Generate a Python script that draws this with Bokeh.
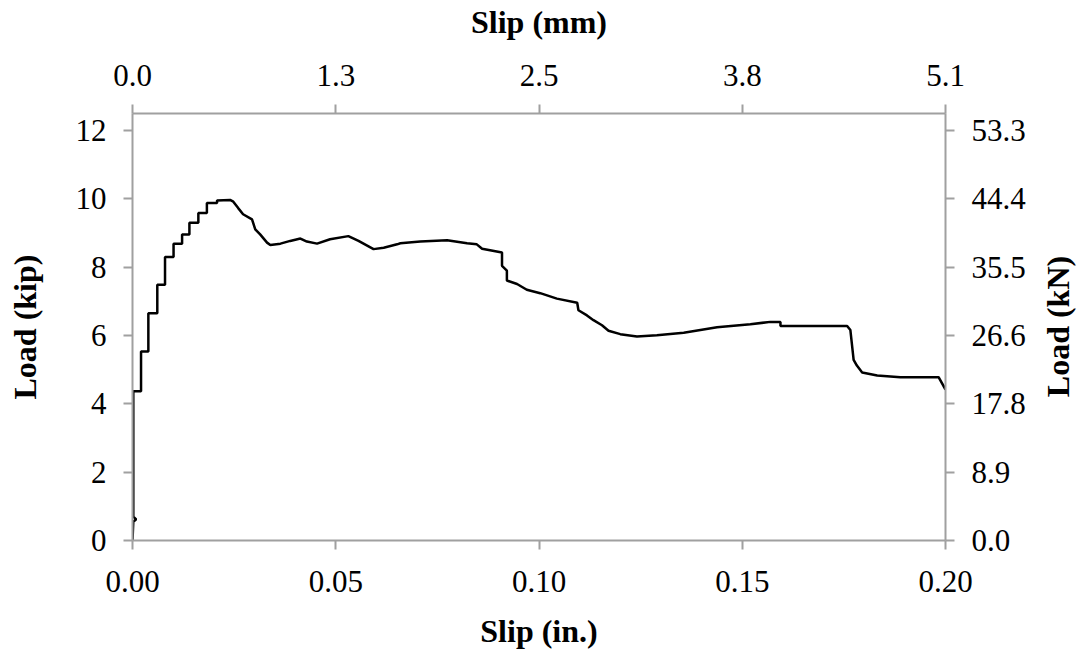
import math
from bokeh.plotting import figure
from bokeh.models import LinearAxis, Range1d, FixedTicker, Label
from bokeh.embed import file_html
from bokeh.resources import INLINE

# ---- data: slip (in.) and load (kip) ----
slip_in = [0.0000, 0.0002, 0.0009, 0.0002, 0.0002, 0.0021, 0.0021, 0.0039, 0.0039,
           0.0061, 0.0061, 0.0080, 0.0080, 0.0101, 0.0101, 0.0122, 0.0122, 0.0140,
           0.0140, 0.0162, 0.0162, 0.0183, 0.0183, 0.0208, 0.0208, 0.0240, 0.0248,
           0.0260, 0.0272, 0.0294, 0.0302, 0.0314, 0.0331, 0.0339, 0.0364, 0.0388,
           0.0413, 0.0429, 0.0454, 0.0486, 0.0531, 0.0556, 0.0593, 0.0618, 0.0651,
           0.0659, 0.0708, 0.0774, 0.0823, 0.0847, 0.0860, 0.0909, 0.0909, 0.0921,
           0.0921, 0.0946, 0.0970, 0.1003, 0.1044, 0.1094, 0.1097, 0.1118, 0.1134,
           0.1155, 0.1171, 0.1200, 0.1241, 0.1290, 0.1356, 0.1438, 0.1520, 0.1569,
           0.1594, 0.1594, 0.1700, 0.1758, 0.1766, 0.1774, 0.1782, 0.1795, 0.1832,
           0.1889, 0.1983, 0.2000]
load_kip = [0.00, 0.55, 0.62, 0.70, 4.37, 4.37, 5.53, 5.53, 6.65,
            6.65, 7.49, 7.49, 8.30, 8.30, 8.69, 8.69, 8.96, 8.96,
            9.30, 9.30, 9.59, 9.59, 9.88, 9.88, 9.95, 9.97, 9.92,
            9.73, 9.55, 9.40, 9.11, 8.96, 8.72, 8.65, 8.69, 8.77,
            8.84, 8.75, 8.69, 8.82, 8.91, 8.77, 8.53, 8.57, 8.67,
            8.70, 8.75, 8.79, 8.70, 8.67, 8.54, 8.43, 8.04, 7.90,
            7.61, 7.51, 7.34, 7.24, 7.08, 6.96, 6.74, 6.59, 6.45,
            6.30, 6.14, 6.04, 5.97, 6.01, 6.08, 6.24, 6.33, 6.40,
            6.40, 6.28, 6.28, 6.28, 6.16, 5.29, 5.12, 4.92, 4.83,
            4.78, 4.78, 4.42]

# ---- axes ticks and labels ----
kip_ticks = [0, 2, 4, 6, 8, 10, 12]
kip_labels = ["0", "2", "4", "6", "8", "10", "12"]
in_ticks = [0.0, 0.05, 0.10, 0.15, 0.20]
in_labels = ["0.00", "0.05", "0.10", "0.15", "0.20"]
mm_ticks = [0.0, 1.27, 2.54, 3.81, 5.08]
mm_labels = ["0.0", "1.3", "2.5", "3.8", "5.1"]
kn_ticks = [0.0, 8.88, 17.76, 26.64, 35.52, 44.40, 53.28]
kn_labels = ["0.0", "8.9", "17.8", "26.6", "35.5", "44.4", "53.3"]

X_MAX = 0.2
Y_MAX = 12.5
MM_PER_IN = 25.4
KN_PER_KIP = 4.44

FONT = "Liberation Serif"
AXIS_GRAY = "#a0a0a0"
TICK_SIZE = "31px"
TITLE_SIZE = "32px"

p = figure(width=1079, height=651, output_backend="svg", toolbar_location=None,
           x_range=Range1d(0, X_MAX), y_range=Range1d(0, Y_MAX),
           min_border_left=132, min_border_right=134, min_border_top=111,
           min_border_bottom=108, x_axis_location=None, y_axis_location=None)
p.extra_x_ranges = {"mm": Range1d(0, X_MAX * MM_PER_IN)}
p.extra_y_ranges = {"kn": Range1d(0, Y_MAX * KN_PER_KIP)}
p.xgrid.visible = False
p.ygrid.visible = False
p.outline_line_color = None
p.background_fill_color = "white"
p.border_fill_color = "white"


def style(ax):
    ax.axis_line_color = AXIS_GRAY
    ax.axis_line_width = 2
    ax.major_tick_line_color = AXIS_GRAY
    ax.major_tick_line_width = 2
    ax.major_tick_in = 0
    ax.major_tick_out = 9
    ax.minor_tick_line_color = None
    ax.major_label_text_font = FONT
    ax.major_label_text_font_size = TICK_SIZE
    ax.major_label_text_color = "black"
    ax.axis_label_text_font = FONT
    ax.axis_label_text_font_size = TITLE_SIZE
    ax.axis_label_text_font_style = "bold"
    ax.axis_label_text_color = "black"


left = LinearAxis(ticker=FixedTicker(ticks=kip_ticks),
                  major_label_overrides=dict(zip(kip_ticks, kip_labels)),
                  axis_label="Load (kip)")
style(left)
left.major_label_standoff = 17
left.axis_label_standoff = 30
p.add_layout(left, "left")

bottom = LinearAxis(ticker=FixedTicker(ticks=in_ticks),
                    major_label_overrides=dict(zip(in_ticks, in_labels)),
                    axis_label="Slip (in.)")
style(bottom)
bottom.major_label_standoff = 21
bottom.axis_label_standoff = 18
p.add_layout(bottom, "below")

top = LinearAxis(x_range_name="mm", ticker=FixedTicker(ticks=mm_ticks),
                 major_label_overrides=dict(zip(mm_ticks, mm_labels)),
                 axis_label="Slip (mm)")
style(top)
top.major_label_standoff = 19
top.axis_label_standoff = 22
p.add_layout(top, "above")

right = LinearAxis(y_range_name="kn", ticker=FixedTicker(ticks=kn_ticks),
                   major_label_overrides=dict(zip(kn_ticks, kn_labels)))
style(right)
right.major_label_standoff = 17
p.add_layout(right, "right")

# right-hand title, reading bottom-to-top like the reference
p.add_layout(Label(x=29, y=214, x_units="screen", y_units="screen",
                   text="Load (kN)", angle=math.pi / 2, text_align="center",
                   text_baseline="middle", text_font=FONT,
                   text_font_size=TITLE_SIZE, text_font_style="bold",
                   text_color="black"), "right")

p.line(slip_in, load_kip, line_color="black", line_width=2.5)

open("out.html", "w").write(file_html(p, INLINE))
